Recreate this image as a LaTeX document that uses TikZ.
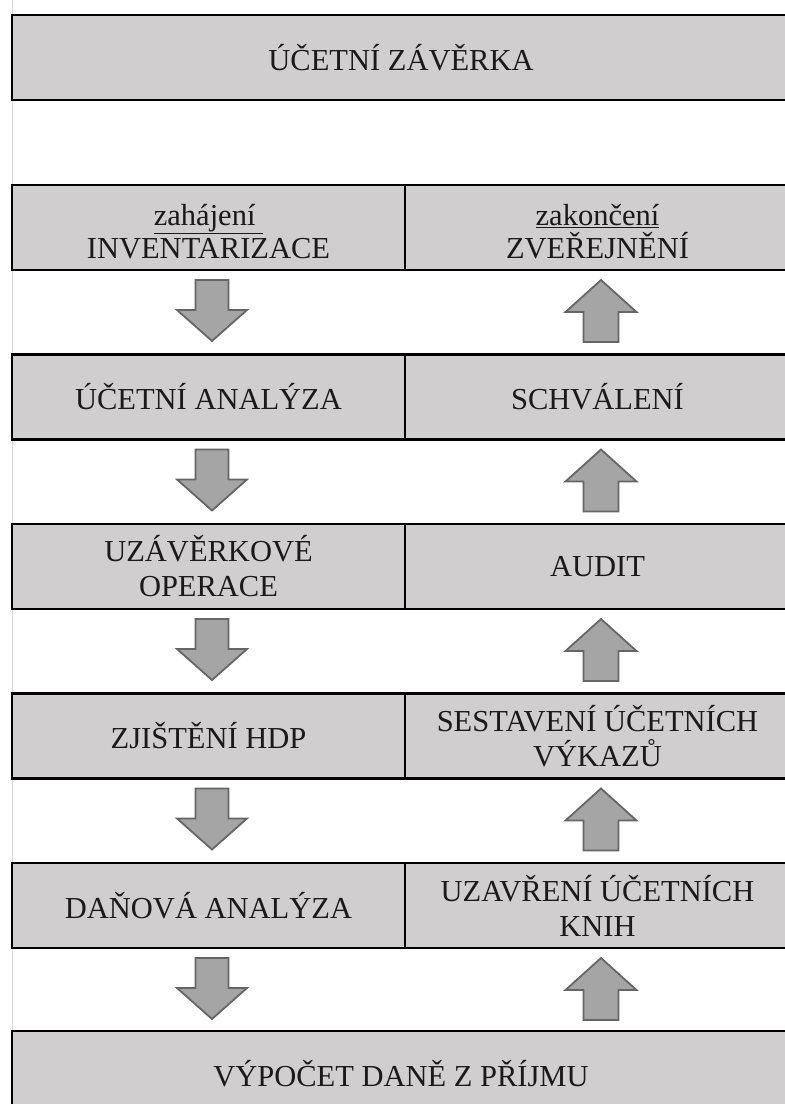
\documentclass[tikz,border=0pt]{standalone}
\usepackage{fontspec}
\setmainfont{Liberation Serif}
\usetikzlibrary{calc}
\definecolor{cellgray}{HTML}{D0CECE}
\definecolor{arrfill}{HTML}{A5A5A5}
\definecolor{arrline}{HTML}{666666}
\definecolor{gridgray}{HTML}{DADADA}
\definecolor{txt}{HTML}{1A1A1A}
\begin{document}
\begin{tikzpicture}[x=1pt,y=-1pt,
  cell/.style={draw=black,line width=2.5pt,fill=cellgray,inner sep=0pt,outer sep=0pt,
    align=center,anchor=north west,minimum height=85pt,
    font=\fontsize{30.5}{35}\selectfont,text=txt},
  lcell/.style={cell,minimum width=393pt},
  rcell/.style={cell,minimum width=385pt},
  wide/.style={cell,minimum width=778pt},
  blockarrow/.style={draw=arrline,line width=1.8pt,fill=arrfill,line join=miter},
  downarr/.pic={\path[blockarrow] (-16.5,0) -- (16.5,0) -- (16.5,30) -- (35,30) -- (0,61) -- (-35,30) -- (-16.5,30) -- cycle;},
  uparr/.pic={\path[blockarrow] (0,0) -- (35.5,32) -- (17.5,32) -- (17.5,62) -- (-17.5,62) -- (-17.5,32) -- (-35.5,32) -- cycle;}
]
\useasboundingbox (0,0) rectangle (785,1104);
\clip (0,0) rectangle (785,1104);
\fill[white] (0,0) rectangle (785,1104);
\draw[gridgray,line width=0.8pt] (12.5,0) -- (12.5,1104);

\node[wide] (top) at (12,15) {ÚČETNÍ ZÁVĚRKA};

\node[lcell,font=\fontsize{30.5}{33}\selectfont] (l1) at (12,185) {\rule{0pt}{30pt}\underline{zahájení\ }\\INVENTARIZACE};
\node[rcell,font=\fontsize{30.5}{33}\selectfont] (r1) at (405,185) {\rule{0pt}{30pt}\underline{zakončení}\\ZVEŘEJNĚNÍ};

\node[lcell] (l2) at (12,354.5) {ÚČETNÍ ANALÝZA};
\node[rcell] (r2) at (405,354.5) {SCHVÁLENÍ};

\node[lcell] (l3) at (12,524) {UZÁVĚRKOVÉ\\OPERACE};
\node[rcell] (r3) at (405,524) {AUDIT};

\node[lcell] (l4) at (12,693.5) {ZJIŠTĚNÍ HDP};
\node[rcell] (r4) at (405,693.5) {SESTAVENÍ ÚČETNÍCH\\VÝKAZŮ};

\node[lcell] (l5) at (12,863) {DAŇOVÁ ANALÝZA};
\node[rcell] (r5) at (405,863) {UZAVŘENÍ ÚČETNÍCH\\KNIH};

\node[wide] (bottom) at (12,1031) {VÝPOČET DANĚ Z PŘÍJMU};

\foreach \a in {l1,l2,l3,l4,l5}{
  \pic at ($(\a.south)+(3.5,10)$) {downarr};
}
\foreach \a in {r1,r2,r3,r4,r5}{
  \pic at ($(\a.south)+(3.5,10)$) {uparr};
}
\end{tikzpicture}
\end{document}
